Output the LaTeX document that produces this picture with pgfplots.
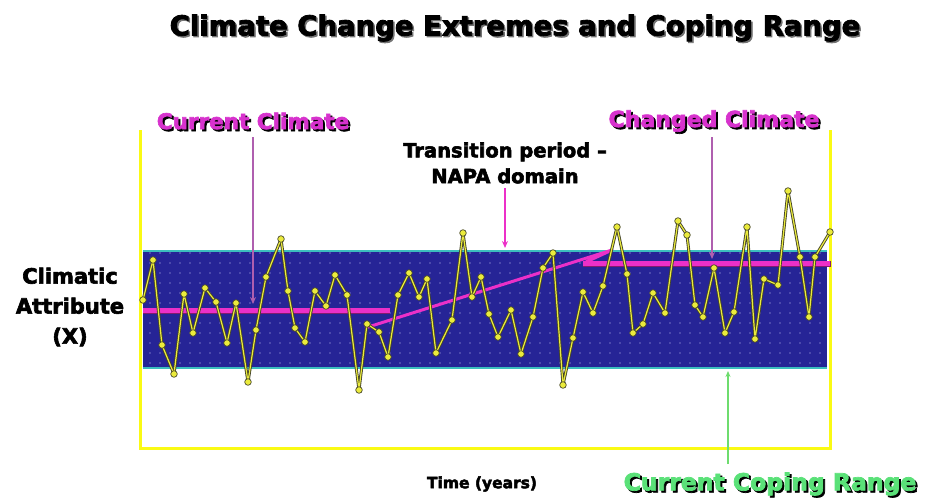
\documentclass[border=0pt]{standalone}
\usepackage{pgfplots}
\pgfplotsset{compat=1.18}
\usetikzlibrary{patterns.meta,arrows.meta}
\usepackage{fontspec}
\newcommand{\blkf}[1]{\font\tmpf="DejaVu Sans Bold:embolden=3;mapping=tex-text" at #1pt\tmpf}
\definecolor{bandblue}{RGB}{38,36,150}
\definecolor{dotc}{RGB}{200,200,245}
\definecolor{tealedge}{RGB}{60,190,190}
\definecolor{frameyellow}{RGB}{250,250,20}
\definecolor{pinkline}{RGB}{236,48,200}
\definecolor{pinktext}{RGB}{215,50,205}
\definecolor{mauve}{RGB}{175,95,175}
\definecolor{greentext}{RGB}{90,225,120}
\definecolor{greenline}{RGB}{110,220,110}
\definecolor{seriesedge}{RGB}{70,70,40}
\definecolor{seriesyel}{RGB}{235,235,60}
\begin{document}
\begin{tikzpicture}
\begin{axis}[
  width=930pt, height=503pt, scale only axis,
  xmin=0, xmax=930, ymin=0, ymax=503, y dir=reverse,
  hide axis, clip=false,
]
\path (rel axis cs:0,0) rectangle (rel axis cs:1,1);
% band
\addplot[fill=bandblue, draw=none] coordinates {(143,251) (827,251) (827,368) (143,368)} -- cycle;
\addplot[pattern={Dots[distance=10pt, radius=0.7pt]}, pattern color=dotc, draw=none] coordinates {(143,251) (827,251) (827,368) (143,368)} -- cycle;
\addplot[tealedge, line width=1.3pt] coordinates {(143,251) (827,251)};
\addplot[tealedge, line width=1.3pt] coordinates {(143,368) (827,368)};
% yellow frame
\addplot[frameyellow, line width=3pt] coordinates {(140,130) (140,448) (830,448) (830,130)};
% pink trend lines
\addplot[pinkline!55!black, line width=5.5pt] coordinates {(143,311) (390,311)};
\addplot[pinkline, line width=5pt] coordinates {(143,310) (390,310)};
\addplot[pinkline, line width=3pt, line join=round] coordinates {(365,328) (612,250) (586,262)};
\addplot[pinkline!55!black, line width=5.5pt] coordinates {(583,264) (831,264)};
\addplot[pinkline, line width=5pt] coordinates {(583,263) (830,263)};
% data series
\pgfplotstableread{
x y
143 300
153 260
162 345
174 374
184 294
193 333
205 288
216 302
227 343
236 303
248 382
256 330
266 277
281 239
288 291
295 328
305 342
315 291
326 306
335 275
347 295
359 390
367 324
379 332
388 357
398 295
409 273
419 297
427 279
436 353
452 320
463 233
472 297
481 277
489 314
498 337
511 310
521 354
533 317
543 268
553 253
563 385
573 338
583 292
593 313
603 286
617 227
627 274
633 333
643 324
653 293
665 313
678 221
687 235
695 305
703 317
714 268
725 333
734 312
747 227
755 339
764 279
778 285
788 191
800 257
809 317
815 257
830 232
}\series
\addplot[seriesedge, line width=3pt, line join=round, no marks] table[x=x,y=y] {\series};
\addplot[seriesyel, line width=1.2pt, line join=round, mark=*, mark size=3.3pt,
  mark options={fill=seriesyel, draw=seriesedge, line width=0.7pt}] table[x=x,y=y] {\series};
% arrows
\addplot[mauve, line width=1.5pt, -{Stealth[length=7pt,width=6pt]}] coordinates {(253,137) (253,304)};
\addplot[pinkline, line width=2pt, -{Stealth[length=7pt,width=6pt]}] coordinates {(505,188) (505,248)};
\addplot[mauve, line width=1.5pt, -{Stealth[length=7pt,width=6pt]}] coordinates {(712,137) (712,259)};
\addplot[greenline, line width=1.2pt, -{Stealth[length=6pt,width=5pt]}] coordinates {(728,464) (728,371)};
% texts
\node[text=black!55, font=\blkf{27.5}, xshift=1.5pt, yshift=-1.5pt] at (axis cs:515,28) {Climate Change Extremes and Coping Range};
\node[text=black, font=\blkf{27.5}] at (axis cs:515,28) {Climate Change Extremes and Coping Range};
\node[text=black, font=\blkf{21.5}, xshift=2pt, yshift=-2pt] at (axis cs:253,121) {Current Climate};
\node[text=pinktext, font=\blkf{21.5}] at (axis cs:253,121) {Current Climate};
\node[text=black, font=\blkf{22}, xshift=2pt, yshift=-2pt] at (axis cs:714,121) {Changed Climate};
\node[text=pinktext, font=\blkf{22}] at (axis cs:714,121) {Changed Climate};
\node[text=black, font=\blkf{19.5}, align=center] at (axis cs:505,163) {Transition period –\\[6pt]NAPA domain};
\node[text=black, font={\blkf{21}\baselineskip=30pt}, align=center] at (axis cs:70,307) {Climatic\\Attribute\\(X)};
\node[text=black, font=\blkf{15.5}] at (axis cs:482,484) {Time (years)};
\node[text=black, font=\blkf{23.5}, xshift=2pt, yshift=-2pt] at (axis cs:770,484) {Current Coping Range};
\node[text=greentext, font=\blkf{23.5}] at (axis cs:770,484) {Current Coping Range};
\end{axis}
\end{tikzpicture}
\end{document}
